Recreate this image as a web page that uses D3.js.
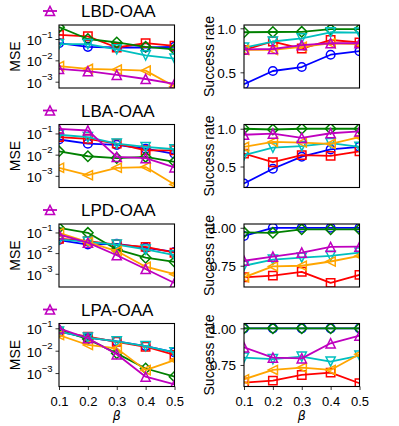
<!DOCTYPE html>
<html>
<head>
<meta charset="utf-8">
<script src="https://cdn.jsdelivr.net/npm/d3@7"></script>
<style>
  body { margin: 0; background: #fff; }
  svg { display: block; font-family: "Liberation Sans", Arial, sans-serif; }
</style>
</head>
<body>
<svg id="chart" width="399" height="426"></svg>
<script>
// ---- data ----
const betas = [0.1, 0.2, 0.3, 0.4, 0.5];
const rowNames = ["LBD-OAA", "LBA-OAA", "LPD-OAA", "LPA-OAA"];
const seriesOrder = ["blue", "red", "green", "cyan", "orange", "magenta"];

const mseLBD = {
  blue:    [0.064, 0.043, 0.040, 0.040, 0.043],
  red:     [0.155, 0.134, 0.040, 0.064, 0.048],
  green:   [0.36, 0.10, 0.069, 0.043, 0.033],
  cyan:    [0.058, 0.058, 0.033, 0.017, 0.012],
  orange:  [0.0054, 0.0040, 0.0037, 0.0033, 0.0006],
  magenta: [0.0040, 0.0031, 0.0021, 0.00134, 0.0008]
};
const mseLBA = {
  blue:    [0.052, 0.033, 0.029, 0.019, 0.011],
  red:     [0.067, 0.056, 0.033, 0.016, 0.016],
  green:   [0.0144, 0.0084, 0.0069, 0.0078, 0.0046],
  cyan:    [0.087, 0.067, 0.033, 0.023, 0.018],
  orange:  [0.0024, 0.00107, 0.0024, 0.0026, 0.00039],
  magenta: [0.165, 0.138, 0.0078, 0.0069, 0.0025]
};
const mseLPD = {
  blue:    [0.043, 0.026, 0.028, 0.018, 0.0114],
  red:     [0.050, 0.038, 0.026, 0.020, 0.0105],
  green:   [0.167, 0.096, 0.015, 0.006, 0.0038],
  cyan:    [0.046, 0.035, 0.026, 0.015, 0.0079],
  orange:  [0.096, 0.034, 0.0126, 0.0022, 0.00096],
  magenta: [0.080, 0.032, 0.0079, 0.0017, 0.00036]
};
const mseLPA = {
  blue:    [0.071, 0.038, 0.026, 0.016, 0.0084],
  red:     [0.071, 0.042, 0.025, 0.015, 0.0065],
  green:   [0.085, 0.033, 0.0076, 0.0016, 0.00069],
  cyan:    [0.071, 0.038, 0.026, 0.016, 0.0084],
  orange:  [0.050, 0.018, 0.0127, 0.00135, 0.0038],
  magenta: [0.100, 0.036, 0.0069, 0.00069, 0.00031]
};

const srLBD = {
  blue:    [0.364, 0.515, 0.56, 0.70, 0.74],
  red:     [0.754, 0.85, 0.77, 0.867, 0.84],
  green:   [0.955, 0.958, 0.96, 0.99, 0.99],
  cyan:    [0.78, 0.85, 0.886, 0.955, 0.95],
  orange:  [0.754, 0.754, 0.79, 0.83, 0.82],
  magenta: [0.76, 0.765, 0.81, 0.83, 0.83]
};
const srLBA = {
  blue:    [0.274, 0.47, 0.63, 0.726, 0.76],
  red:     [0.67, 0.557, 0.65, 0.64, 0.70],
  green:   [1.0, 0.99, 1.0, 1.0, 1.0],
  cyan:    [0.65, 0.75, 0.77, 0.81, 0.76],
  orange:  [0.76, 0.826, 0.817, 0.80, 0.89],
  magenta: [0.92, 0.935, 0.88, 0.94, 0.965]
};
const srLPD = {
  blue:    [0.946, 1.0, 1.0, 1.0, 1.0],
  red:     [0.674, 0.685, 0.71, 0.637, 0.69],
  green:   [0.97, 0.967, 0.99, 0.99, 0.99],
  cyan:    [0.75, 0.79, 0.804, 0.815, 0.837],
  orange:  [0.674, 0.746, 0.75, 0.778, 0.815],
  magenta: [0.783, 0.81, 0.837, 0.874, 0.876]
};
const srLPA = {
  blue:    [1.0, 1.0, 1.0, 1.0, 1.0],
  red:     [0.63, 0.643, 0.682, 0.698, 0.625],
  green:   [1.0, 1.0, 1.0, 1.0, 1.0],
  cyan:    [0.80, 0.79, 0.807, 0.773, 0.814],
  orange:  [0.652, 0.716, 0.732, 0.716, 0.823],
  magenta: [0.87, 0.80, 0.795, 0.898, 0.95]
};

const mseRows = [mseLBD, mseLBA, mseLPD, mseLPA];
const srRows = [srLBD, srLBA, srLPD, srLPA];

// axis limits / ticks
const mseExpLimits = [[-3.295, -0.344], [-3.55, -0.578], [-3.64, -0.59], [-3.6, -0.785]];
const mseTicks = [1e-1, 1e-2, 1e-3];
const mseTickExp = ["\u22121", "\u22122", "\u22123"];
const srLimits = [[0.322, 1.0375], [0.222, 1.056], [0.61, 1.025], [0.603, 1.033]];
const srTicks = [[0.5, 1.0], [0.5, 1.0], [0.75, 1.0], [0.75, 1.0]];
const srTickFormat = [".1f", ".1f", ".2f", ".2f"];

// ---- layout ----
const svg = d3.select("#chart");
const colLeft = [59, 244];
const panelW = 115.5, panelH = 63;
const rowTop = i => 25 + i * 99.5;

const colors = {
  blue: "#0000ff", red: "#ff0000", green: "#008000",
  cyan: "#00bfbf", orange: "#ffa500", magenta: "#bf00bf"
};
const markerPaths = {
  blue: "M4.3,0A4.3,4.3,0,1,1,-4.3,0A4.3,4.3,0,1,1,4.3,0Z",
  red: "M-4.2,-4.2H4.2V4.2H-4.2Z",
  green: "M0,-5.2L5.2,0L0,5.2L-5.2,0Z",
  cyan: "M0,4.6L-4.6,-4.6L4.6,-4.6Z",
  orange: "M-4.6,0L4.6,-4.6L4.6,4.6Z",
  magenta: "M0,-4.6L-4.6,4.6L4.6,4.6Z"
};

function drawPanel(row, col) {
  const left = colLeft[col], top = rowTop(row);
  const g = svg.append("g");
  const clipId = `clip-${row}-${col}`;
  svg.append("clipPath").attr("id", clipId)
    .append("rect").attr("x", left).attr("y", top).attr("width", panelW).attr("height", panelH);

  const x = d3.scaleLinear().domain([0.1, 0.5]).range([left, left + panelW]);
  let y;
  if (col === 0) {
    const lim = mseExpLimits[row];
    y = d3.scaleLog().domain([Math.pow(10, lim[0]), Math.pow(10, lim[1])]).range([top + panelH, top]);
  } else {
    y = d3.scaleLinear().domain(srLimits[row]).range([top + panelH, top]);
  }
  const data = col === 0 ? mseRows[row] : srRows[row];

  const plot = g.append("g").attr("clip-path", `url(#${clipId})`);
  const line = d3.line().x((d, i) => x(betas[i])).y(d => y(d));
  seriesOrder.forEach(key => {
    const vals = data[key];
    const s = plot.append("g");
    s.append("path")
      .attr("d", line(vals))
      .attr("fill", "none")
      .attr("stroke", colors[key])
      .attr("stroke-width", 1.8)
      .attr("stroke-linejoin", "round");
    s.selectAll("path.mk")
      .data(vals)
      .join("path")
      .attr("class", "mk")
      .attr("d", markerPaths[key])
      .attr("transform", (d, i) => `translate(${x(betas[i])},${y(d)})`)
      .attr("fill", "none")
      .attr("stroke", colors[key])
      .attr("stroke-width", 1.5);
  });

  // y axis
  const yAxis = d3.axisLeft(y).tickSize(3.5).tickPadding(3);
  if (col === 0) yAxis.tickValues(mseTicks);
  else yAxis.tickValues(srTicks[row]).tickFormat(d3.format(srTickFormat[row]));
  const ya = g.append("g").attr("transform", `translate(${left},0)`).call(yAxis);
  ya.select(".domain").remove();
  ya.selectAll(".tick line").attr("stroke", "#000").attr("stroke-width", 0.8);
  ya.selectAll(".tick text")
    .attr("fill", "#000")
    .attr("font-size", 13.5)
    .attr("font-family", "Liberation Sans, Arial, sans-serif");
  if (col === 0) {
    ya.selectAll(".tick text").each(function (d, i) {
      const t = d3.select(this).text("").attr("dy", null).attr("x", -6.5).attr("y", 5.5);
      t.append("tspan").text("10");
      t.append("tspan").attr("dy", -7.5).attr("font-size", 9.5).text(mseTickExp[i]);
    });
  } else {
    ya.selectAll(".tick text").attr("dy", null).attr("x", -8).attr("y", 4.8);
  }

  // x axis only on bottom row
  if (row === 3) {
    const xa = g.append("g").attr("transform", `translate(0,${top + panelH})`)
      .call(d3.axisBottom(x).tickValues(betas).tickSize(3.5).tickPadding(3).tickFormat(d3.format(".1f")));
    xa.select(".domain").remove();
    xa.selectAll(".tick line").attr("stroke", "#000").attr("stroke-width", 0.8);
    xa.selectAll(".tick text")
      .attr("fill", "#000")
      .attr("font-size", 13)
      .attr("font-family", "Liberation Sans, Arial, sans-serif")
      .attr("dy", null).attr("y", 19.5);
    g.append("text")
      .attr("x", left + panelW / 2).attr("y", 420)
      .attr("text-anchor", "middle")
      .attr("font-family", "DejaVu Sans, sans-serif")
      .attr("font-style", "italic")
      .attr("font-size", 12.5)
      .text("\u03b2");
  }

  // frame
  g.append("rect")
    .attr("x", left).attr("y", top).attr("width", panelW).attr("height", panelH)
    .attr("fill", "none").attr("stroke", "#000").attr("stroke-width", 1.1);

  // y label
  const lx = col === 0 ? 20 : 214;
  g.append("text")
    .attr("transform", `translate(${lx},${top + panelH / 2}) rotate(-90)`)
    .attr("text-anchor", "middle")
    .attr("font-size", 14)
    .text(col === 0 ? "MSE" : "Success rate");
}

rowNames.forEach((name, row) => {
  drawPanel(row, 0);
  drawPanel(row, 1);

  // legend for the OAA method of this row
  const ly = rowTop(row) - 14;
  const lg = svg.append("g");
  lg.append("line")
    .attr("x1", 43).attr("x2", 57).attr("y1", ly).attr("y2", ly)
    .attr("stroke", colors.magenta).attr("stroke-width", 1.8);
  lg.append("path")
    .attr("d", markerPaths.magenta)
    .attr("transform", `translate(50,${ly})`)
    .attr("fill", "none").attr("stroke", colors.magenta).attr("stroke-width", 1.5);
  lg.append("text")
    .attr("x", 81).attr("y", ly + 6)
    .attr("font-size", 17)
    .text(name);
});
</script>
</body>
</html>
